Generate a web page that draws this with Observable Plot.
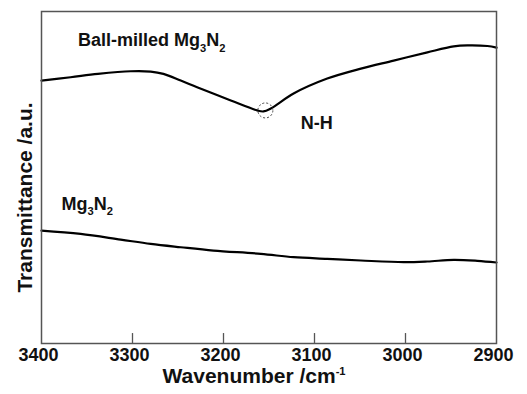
<!DOCTYPE html>
<html>
<head>
<meta charset="utf-8">
<script src="https://cdn.jsdelivr.net/npm/d3@7"></script>
<script src="https://cdn.jsdelivr.net/npm/@observablehq/plot@0.6"></script>
<style>
  html, body { margin: 0; padding: 0; background: #fff; }
  svg { display: block; }
</style>
</head>
<body>
<div id="chart"></div>
<script>
// Ball-milled Mg3N2 spectrum
const ballWavenumber = [3400,3368,3338,3302,3280,3266,3247,3229,3192,3163,3156,3148,3123,3086,3049,3013,2976,2947,2932,2910,2900];
const ballTransmittance = [79.2,80.2,81.2,82.0,81.9,81.2,79.2,77.2,73.2,70.2,69.9,70.8,75.3,79.8,82.8,85.2,87.7,89.5,89.8,89.6,89.1];
// As-received Mg3N2 spectrum
const rawWavenumber = [3400,3357,3313,3280,3247,3211,3159,3123,3086,3049,3002,2976,2947,2921,2900];
const rawTransmittance = [34.0,33.0,31.3,30.0,29.0,28.0,27.0,26.0,25.5,25.0,24.5,24.7,25.2,24.9,24.4];
// Axis ticks
const xTicks = [3400, 3300, 3200, 3100, 3000, 2900];
const innerTicks = [3300, 3200, 3100, 3000];
// Annotations
const labels = [
  {w: 3360, t: 91.3, text: "Ball-milled Mg_{3}N_{2}"},
  {w: 3115, t: 66.2, text: "N-H"},
  {w: 3378, t: 42.0, text: "Mg_{3}N_{2}"}
];
const peak = [{w: 3154, t: 70.2}];

const ball = ballWavenumber.map((w, i) => ({w, t: ballTransmittance[i]}));
const raw = rawWavenumber.map((w, i) => ({w, t: rawTransmittance[i]}));

const FONT = "'Liberation Sans', Arial, sans-serif";

const chart = Plot.plot({
  width: 527,
  height: 394,
  marginLeft: 41,
  marginRight: 31,
  marginTop: 11,
  marginBottom: 51,
  style: {fontFamily: FONT, background: "#fff"},
  x: {domain: [3400, 2900], label: null},
  y: {domain: [0, 100], label: null, axis: null},
  marks: [
    Plot.ruleX(innerTicks, {y1: 0, y2: 3, stroke: "#555", strokeWidth: 1.3}),
    Plot.axisX(xTicks, {tickSize: 0, tickPadding: 5, tickFormat: "d", fontSize: 18, fontWeight: "bold", fill: "#111", dx: -3, label: null}),
    Plot.line(ball, {x: "w", y: "t", stroke: "#000", strokeWidth: 2.2, curve: "catmull-rom"}),
    Plot.line(raw, {x: "w", y: "t", stroke: "#000", strokeWidth: 2.2, curve: "catmull-rom"}),
    Plot.dot(peak, {x: "w", y: "t", r: 7.5, stroke: "#444", strokeWidth: 1, strokeDasharray: "2,2", fill: "none"}),
    Plot.text(labels, {x: "w", y: "t", text: "text", textAnchor: "start", lineAnchor: "middle", fontSize: 18, fontWeight: "bold", fill: "#111"}),
    Plot.text(["Wavenumber /cm^{-1}"], {x: () => 3267, frameAnchor: "bottom", dy: 33, textAnchor: "start", lineAnchor: "middle", fontSize: 21, fontWeight: "bold", fill: "#111"}),
    Plot.text(["Transmittance /a.u."], {frameAnchor: "left", rotate: -90, dx: -16, dy: 20, textAnchor: "middle", lineAnchor: "middle", fontSize: 21, fontWeight: "bold", fill: "#111"}),
    Plot.frame({stroke: "#555", strokeWidth: 1.5})
  ]
});

// Turn _{..} and ^{..} markers into real sub/superscript tspans
d3.select(chart).selectAll("text").each(function() {
  const el = this;
  const tspans = el.querySelectorAll("tspan");
  const target = tspans.length ? tspans[0] : el;
  const s = target.textContent;
  if (!/[_^]\{/.test(s)) return;
  const fs = parseFloat(el.getAttribute("font-size") || getComputedStyle(el).fontSize || 18) || 18;
  const parts = s.split(/([_^]\{[^}]*\})/).filter(p => p.length);
  while (target.firstChild) target.removeChild(target.firstChild);
  let shift = 0;
  for (const p of parts) {
    const ts = document.createElementNS("http://www.w3.org/2000/svg", "tspan");
    let want = 0, txt = p, small = false;
    if (p.startsWith("_{")) { want = 0.3 * fs; txt = p.slice(2, -1); small = true; }
    else if (p.startsWith("^{")) { want = -0.45 * fs; txt = p.slice(2, -1); small = true; }
    if (small) ts.setAttribute("font-size", (0.62 * fs) + "px");
    const dy = want - shift;
    if (dy !== 0) ts.setAttribute("dy", dy);
    shift = want;
    ts.textContent = txt;
    target.appendChild(ts);
  }
});

document.getElementById("chart").appendChild(chart);
</script>
</body>
</html>
